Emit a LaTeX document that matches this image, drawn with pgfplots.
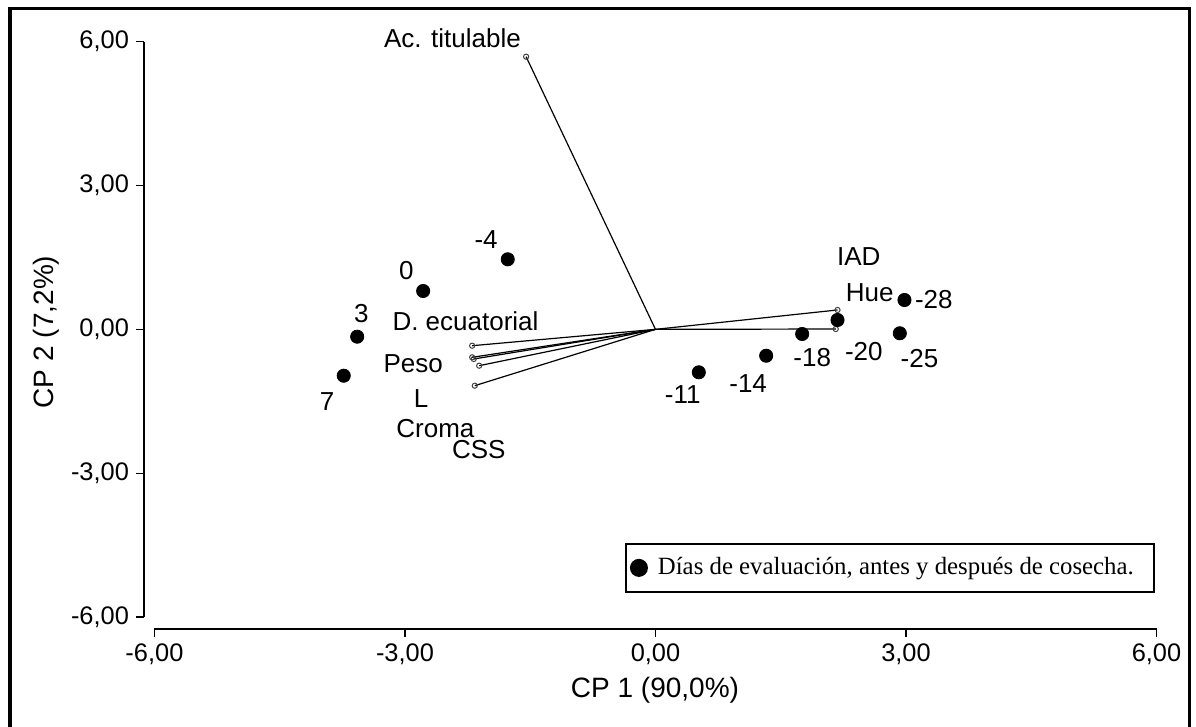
\documentclass[border=0pt]{standalone}
\usepackage{fontspec}
\setmainfont{Liberation Sans}
\newfontfamily\timesfont{Liberation Serif}
\usepackage{pgfplots}
\pgfplotsset{compat=1.18}

\newcommand{\lblfont}{\fontsize{13}{15}\selectfont}
\newcommand{\tickfont}{\fontsize{12.7}{15}\selectfont}

\begin{document}
\begin{tikzpicture}
\useasboundingbox (-72pt,-49pt) rectangle (526pt,314.5pt);
% outer frame (bottom edge is off the page)
\draw[line width=1.6pt] (-67pt,-60pt) -- (-67pt,310.25pt) -- (522.75pt,310.25pt) -- (522.75pt,-60pt);
\begin{axis}[
  at={(0pt,0pt)}, anchor=south west,
  scale only axis,
  width=506.25pt, height=293.65pt,
  xmin=-6.125, xmax=6, ymin=-6.25, ymax=6,
  axis x line=bottom, axis y line=left,
  axis line style={draw=none},
  tick align=outside, major tick length=4pt,
  tick style={black, line width=0.6pt},
  xtick={-6,-3,0,3,6}, ytick={-6,-3,0,3,6},
  xticklabels={{-6,00},{-3,00},{0,00},{3,00},{6,00}},
  yticklabels={{-6,00},{-3,00},{0,00},{3,00},{6,00}},
  ticklabel style={font=\tickfont},
  clip=false,
  legend style={at={(0.475,0.0613)}, anchor=south west, draw=black, line width=1pt,
    inner xsep=2pt, inner ysep=5pt, font=\timesfont\fontsize{12.4}{14}\selectfont},
  legend cell align=left,
]
% axis lines (separated at the corner)
\draw[line width=0.6pt] (axis cs:-6.125,-6) -- (axis cs:-6.125,6);
\draw[line width=0.6pt] (axis cs:-6,-6.25) -- (axis cs:6,-6.25);

% variable vectors
\addplot[black, line width=0.6pt, mark=o, mark size=1.3pt, mark indices={2},
  mark options={draw=darkgray, fill=white, line width=0.5pt}, forget plot]
  coordinates {(0,0) (-1.549,5.687)};
\addplot[black, line width=0.6pt, mark=o, mark size=1.3pt, mark indices={2},
  mark options={draw=darkgray, fill=white, line width=0.5pt}, forget plot]
  coordinates {(0,0) (-2.195,-0.341)};
\addplot[black, line width=0.6pt, mark=o, mark size=1.3pt, mark indices={2},
  mark options={draw=darkgray, fill=white, line width=0.5pt}, forget plot]
  coordinates {(0,0) (-2.195,-0.583)};
\addplot[black, line width=0.6pt, mark=o, mark size=1.3pt, mark indices={2},
  mark options={draw=darkgray, fill=white, line width=0.5pt}, forget plot]
  coordinates {(0,0) (-2.176,-0.618)};
\addplot[black, line width=0.6pt, mark=o, mark size=1.3pt, mark indices={2},
  mark options={draw=darkgray, fill=white, line width=0.5pt}, forget plot]
  coordinates {(0,0) (-2.111,-0.758)};
\addplot[black, line width=0.6pt, mark=o, mark size=1.3pt, mark indices={2},
  mark options={draw=darkgray, fill=white, line width=0.5pt}, forget plot]
  coordinates {(0,0) (-2.164,-1.175)};
\addplot[black, line width=0.6pt, mark=o, mark size=1.3pt, mark indices={2},
  mark options={draw=darkgray, fill=white, line width=0.5pt}, forget plot]
  coordinates {(0,0) (2.180,0.404)};
\addplot[black, line width=0.6pt, mark=o, mark size=1.3pt, mark indices={2},
  mark options={draw=darkgray, fill=white, line width=0.5pt}, forget plot]
  coordinates {(0,0) (2.159,0.007)};

% evaluation days
\addplot[only marks, mark=*, mark size=3.3pt, black,
  legend image code/.code={\fill[black] (3pt,0pt) circle (4pt);}]
  coordinates {
    (-1.769,1.461) (-2.782,0.800) (-3.572,-0.153) (-3.733,-0.967)
    (0.519,-0.896) (1.326,-0.550) (1.757,-0.097) (2.180,0.195)
    (2.926,-0.082) (2.982,0.612)
  };
\addlegendentry{\makebox[247pt][l]{\hspace*{3pt}Días de evaluación, antes y después de cosecha.}}

% labels
\begin{scope}[every node/.style={font=\lblfont, inner sep=0pt}]
\node at (axis cs:-2.431,6.077) {Ac. titulable};
\node at (axis cs:-2.275,0.160) {D. ecuatorial};
\node at (axis cs:-2.902,-0.708) {Peso};
\node at (axis cs:-2.806,-1.438) {L};
\node at (axis cs:-2.635,-2.064) {Croma};
\node at (axis cs:-2.116,-2.517) {CSS};
\node at (axis cs:2.435,1.515) {IAD};
\node at (axis cs:2.566,0.765) {Hue};
\node at (axis cs:-2.028,1.864) {-4};
\node at (axis cs:-2.982,1.223) {0};
\node at (axis cs:-3.521,0.335) {3};
\node at (axis cs:-3.932,-1.509) {7};
\node at (axis cs:0.327,-1.369) {-11};
\node at (axis cs:1.110,-1.125) {-14};
\node at (axis cs:1.877,-0.591) {-18};
\node at (axis cs:2.495,-0.466) {-20};
\node at (axis cs:3.162,-0.604) {-25};
\node at (axis cs:3.333,0.612) {-28};
\end{scope}
\end{axis}
\node[font=\fontsize{14}{16}\selectfont] at (255.5pt,-30.5pt) {CP 1 (90,0\%)};
\node[font=\fontsize{14}{16}\selectfont, rotate=90] at (-49pt,148.5pt) {CP 2 (7,2\%)};
\end{tikzpicture}
\end{document}
